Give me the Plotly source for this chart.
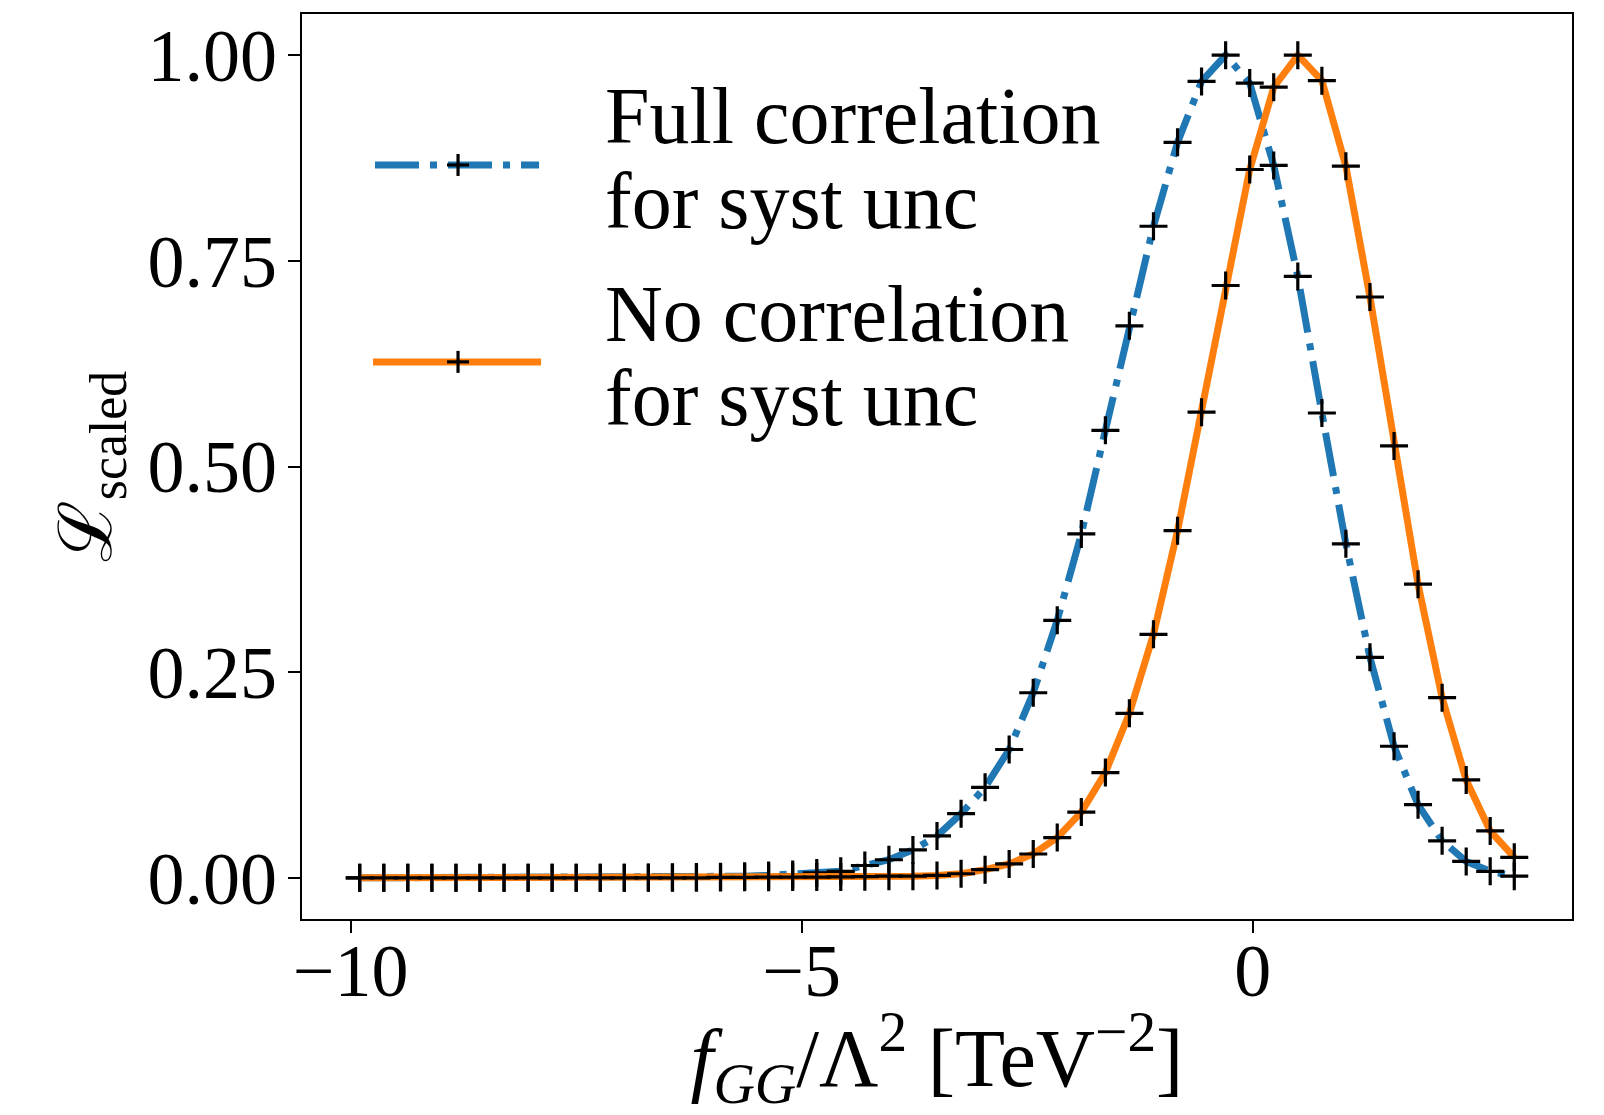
import plotly.graph_objects as go

# ---------------- data ----------------
f_gg = [-9.9, -9.633, -9.367, -9.1, -8.833, -8.567, -8.3, -8.033, -7.767, -7.5,
        -7.233, -6.967, -6.7, -6.433, -6.167, -5.9, -5.633, -5.367, -5.1, -4.833,
        -4.567, -4.3, -4.033, -3.767, -3.5, -3.233, -2.967, -2.7, -2.433, -2.167,
        -1.9, -1.633, -1.367, -1.1, -0.833, -0.567, -0.3, -0.033, 0.233, 0.5,
        0.767, 1.033, 1.3, 1.567, 1.833, 2.1, 2.367, 2.633, 2.9]

full_corr = [0.0, 0.0, 0.0, 0.0, 0.0, 0.0, 0.0, 0.0, 0.0, 0.0,
             0.0, 0.0, 0.0005, 0.0007, 0.001, 0.0015, 0.002, 0.003, 0.004, 0.006,
             0.008, 0.015, 0.022, 0.034, 0.051, 0.078, 0.110, 0.156, 0.225, 0.313,
             0.418, 0.544, 0.671, 0.792, 0.894, 0.968, 1.000, 0.966, 0.866, 0.731,
             0.565, 0.406, 0.268, 0.160, 0.089, 0.045, 0.020, 0.008, 0.002]

no_corr = [0.0, 0.0, 0.0, 0.0, 0.0, 0.0, 0.0, 0.0, 0.0, 0.0,
           0.0, 0.0, 0.0, 0.0, 0.0, 0.0005, 0.0006, 0.0008, 0.001, 0.001,
           0.0012, 0.0015, 0.002, 0.002, 0.003, 0.005, 0.010, 0.017, 0.029, 0.049,
           0.080, 0.128, 0.200, 0.296, 0.422, 0.566, 0.720, 0.861, 0.961, 1.000,
           0.969, 0.865, 0.706, 0.525, 0.357, 0.219, 0.119, 0.057, 0.025]

series_names = [["Full correlation", "for syst unc"], ["No correlation", "for syst unc"]]
x_tick_vals = [-10, -5, 0]
x_tick_text = ["\u221210", "\u22125", "0"]
y_tick_vals = [0.0, 0.25, 0.5, 0.75, 1.0]
y_tick_text = ["0.00", "0.25", "0.50", "0.75", "1.00"]

# ---------------- style ----------------
W, H = 1604, 1115
L, R, T, B = 302, 1571.7, 14, 919.3
FONT = "Liberation Serif"
FS = 74
FS_LEG = 80
FS_XT = 82
BLUE = "#1f77b4"
ORANGE = "#ff7f0e"
LW = 7
DASHDOT = "44px,11px,7px,11px"
MK_W = 3.2


def px2paper_x(px):
    return (px - L) / (R - L)


def px2paper_y(py):
    return (B - py) / (B - T)


marker_style = dict(symbol="cross-thin", size=20, color="black",
                    line=dict(color="black", width=MK_W))

fig = go.Figure()
fig.add_trace(go.Scatter(x=f_gg, y=full_corr, mode="lines+markers",
                         name=" ".join(series_names[0]),
                         line=dict(color=BLUE, width=LW, dash=DASHDOT),
                         marker=marker_style, showlegend=False))
fig.add_trace(go.Scatter(x=f_gg, y=no_corr, mode="lines+markers",
                         name=" ".join(series_names[1]),
                         line=dict(color=ORANGE, width=LW),
                         marker=marker_style, showlegend=False))

# ---------------- manual legend ----------------
shapes = []
annotations = []
legend_rows = [
    dict(color=BLUE, dash=DASHDOT, line_y=165, x0=375, x1=539,
         text_baselines=[143, 228]),
    dict(color=ORANGE, dash="solid", line_y=362, x0=373, x1=541,
         text_baselines=[341, 425]),
]
plus_x = 458
plus_half = 11
for row, names in zip(legend_rows, series_names):
    shapes.append(dict(type="line", xref="paper", yref="paper",
                       x0=px2paper_x(row["x0"]), x1=px2paper_x(row["x1"]),
                       y0=px2paper_y(row["line_y"]), y1=px2paper_y(row["line_y"]),
                       line=dict(color=row["color"], width=LW, dash=row["dash"])))
    shapes.append(dict(type="line", xref="paper", yref="paper",
                       x0=px2paper_x(plus_x - plus_half), x1=px2paper_x(plus_x + plus_half),
                       y0=px2paper_y(row["line_y"]), y1=px2paper_y(row["line_y"]),
                       line=dict(color="black", width=MK_W)))
    shapes.append(dict(type="line", xref="paper", yref="paper",
                       x0=px2paper_x(plus_x), x1=px2paper_x(plus_x),
                       y0=px2paper_y(row["line_y"] - plus_half),
                       y1=px2paper_y(row["line_y"] + plus_half),
                       line=dict(color="black", width=MK_W)))
    for txt, base in zip(names, row["text_baselines"]):
        annotations.append(dict(xref="paper", yref="paper",
                                x=px2paper_x(603), y=px2paper_y(base - 0.3375 * FS_LEG),
                                xanchor="left", yanchor="middle", showarrow=False,
                                text=txt, font=dict(family=FONT, size=FS_LEG, color="black")))

axis_common = dict(showline=True, linecolor="black", linewidth=2.3, mirror=True,
                   ticks="outside", ticklen=12, tickwidth=2.3, tickcolor="black",
                   showgrid=False, zeroline=False, automargin=False,
                   tickfont=dict(family=FONT, size=FS, color="black"))

fig.update_layout(
    width=W, height=H,
    margin=dict(l=L, r=W - R, t=T, b=H - B, pad=0, autoexpand=False),
    paper_bgcolor="white", plot_bgcolor="white",
    font=dict(family=FONT, size=FS, color="black"),
    shapes=shapes, annotations=annotations,
    xaxis=dict(range=[-10.54, 3.54], tickmode="array", tickvals=x_tick_vals,
               ticktext=x_tick_text, ticklabelstandoff=-26,
               title=dict(text="<i>f</i><sub><i>GG</i></sub>/\u039b<sup>2</sup> [TeV<sup>\u22122</sup>]",
                          font=dict(family=FONT, size=FS_XT, color="black"), standoff=46),
               **axis_common),
    yaxis=dict(range=[-0.05, 1.05], tickmode="array", tickvals=y_tick_vals,
               ticktext=y_tick_text, ticklabelstandoff=-4,
               title=dict(text="\u2112<sub>scaled</sub>",
                          font=dict(family=FONT, size=FS, color="black"), standoff=12),
               **axis_common),
)

fig.write_html("out.html")
